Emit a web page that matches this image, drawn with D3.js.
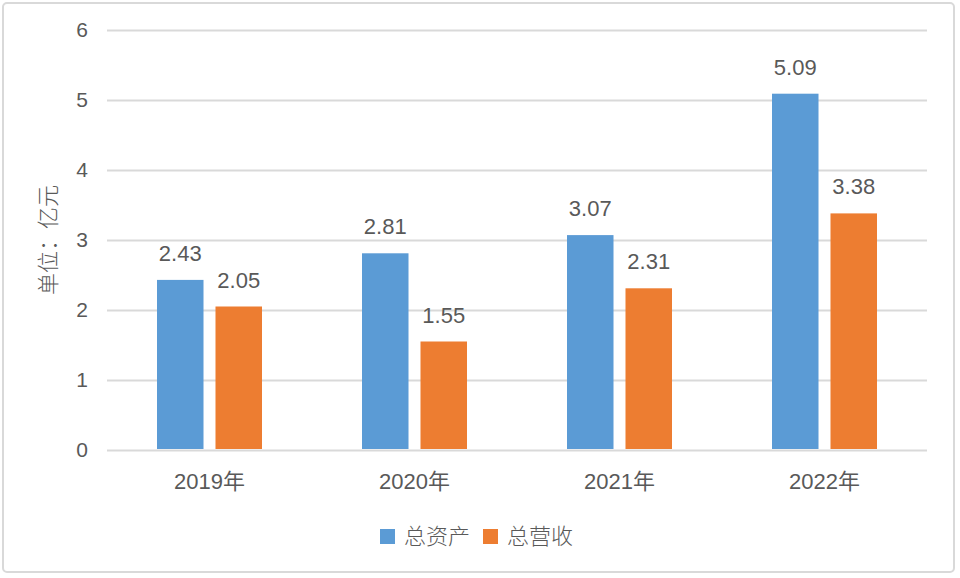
<!DOCTYPE html>
<html><head><meta charset="utf-8">
<script src="https://cdn.jsdelivr.net/npm/d3@7"></script>
<style>
html,body{margin:0;padding:0;background:#fff;}
text{font-family:"Liberation Sans",Arial,"Noto Sans CJK SC",sans-serif;}
</style></head>
<body>
<svg id="c" width="960" height="578"></svg>
<script>
const categories = ["2019年","2020年","2021年","2022年"];
const seriesNames = ["总资产","总营收"];
const totalAssets = [2.43, 2.81, 3.07, 5.09];
const totalRevenue = [2.05, 1.55, 2.31, 3.38];
const yTicks = [0,1,2,3,4,5,6];
const colors = ["#5b9bd5","#ed7d31"];
const seriesValues = [totalAssets, totalRevenue];

const svg = d3.select("#c");
svg.append("rect").attr("x",3).attr("y",3).attr("width",951).attr("height",569)
  .attr("rx",4).attr("fill","#fff").attr("stroke","#d9d9d9").attr("stroke-width",2);

const pLeft=107, pRight=927, pTop=30, pBottom=450;
const y = d3.scaleLinear().domain([0,6]).range([pBottom,pTop]);
const x0 = d3.scaleBand().domain(categories).range([pLeft,pRight]).padding(0);
const x1 = d3.scaleBand().domain(seriesNames).range([50,155]).paddingInner(0.205).paddingOuter(0);

// grid
const yAxis = d3.axisLeft(y).tickValues(yTicks).tickSize(-(pRight-pLeft)).tickPadding(19).tickFormat(d3.format("d"));
const gy = svg.append("g").attr("transform",`translate(${pLeft},0)`).call(yAxis);
gy.select(".domain").remove();
gy.selectAll(".tick line").attr("stroke","#d9d9d9").attr("stroke-width",2);
gy.selectAll(".tick text").attr("fill","#595959").attr("font-size",21)
  .attr("font-family","'Liberation Sans',Arial,sans-serif");

// x axis labels
const xAxis = d3.axisBottom(x0).tickSize(0).tickPadding(23);
const gx = svg.append("g").attr("transform",`translate(0,${pBottom})`).call(xAxis);
gx.select(".domain").remove();
gx.selectAll(".tick text").attr("fill","#595959").attr("font-size",22)
  .attr("font-family","'Liberation Sans',Arial,'Noto Sans CJK SC',sans-serif");

// bars
const data = [];
categories.forEach((c,i)=>seriesNames.forEach((s,j)=>data.push({c,s,j,v:seriesValues[j][i]})));
const g = svg.append("g");
g.selectAll("rect").data(data).enter().append("rect")
  .attr("x",d=>x0(d.c)+x1(d.s)).attr("width",x1.bandwidth())
  .attr("y",d=>y(d.v)).attr("height",d=>y(0)-y(d.v)-1)
  .attr("fill",d=>colors[d.j]);
g.selectAll("text").data(data).enter().append("text")
  .attr("x",d=>x0(d.c)+x1(d.s)+x1.bandwidth()/2).attr("y",d=>y(d.v)-19)
  .attr("text-anchor","middle").attr("fill","#595959").attr("font-size",22)
  .text(d=>d3.format(".2f")(d.v));

// y title
svg.append("text").attr("transform","translate(56,240) rotate(-90)")
  .attr("text-anchor","middle").attr("fill","#595959").attr("font-size",22)
  .attr("font-family","'Noto Sans CJK SC',sans-serif").attr("font-weight",300)
  .text("单位：亿元");

// legend
const legend = svg.append("g");
const lx=[380,483];
seriesNames.forEach((s,j)=>{
  legend.append("rect").attr("x",lx[j]).attr("y",529).attr("width",15).attr("height",15).attr("fill",colors[j]);
  legend.append("text").attr("x",lx[j]+24).attr("y",544).attr("fill","#595959").attr("font-size",22)
    .attr("font-family","'Noto Sans CJK SC',sans-serif").attr("font-weight",300).text(s);
});
</script>
</body></html>
